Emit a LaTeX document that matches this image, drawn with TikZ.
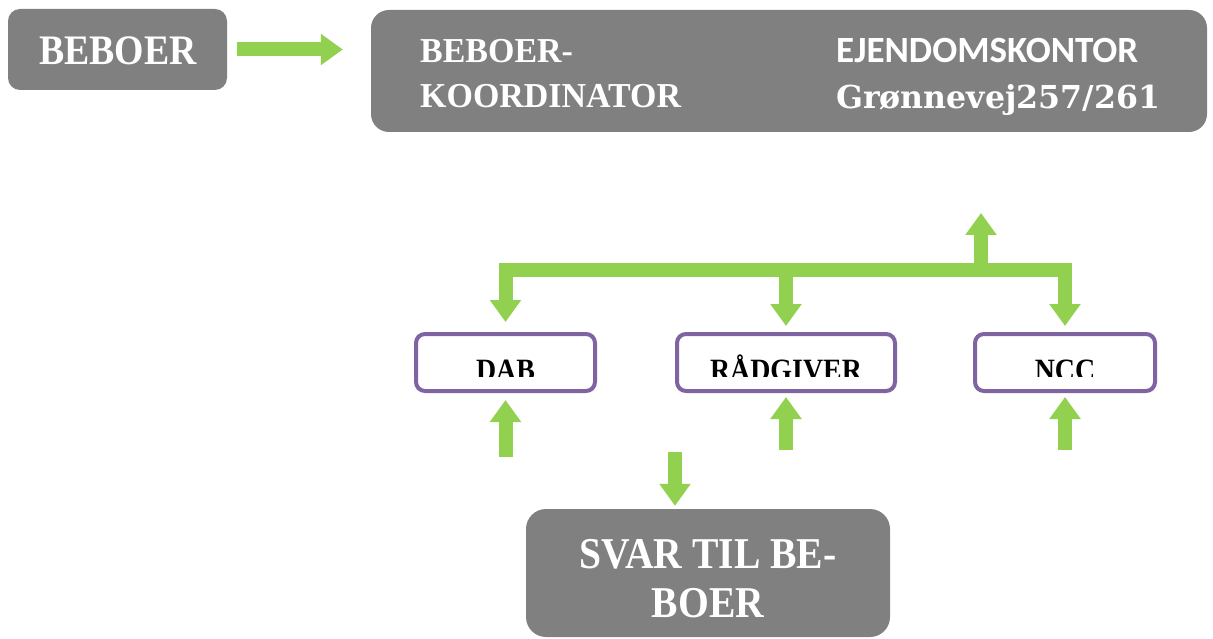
\documentclass[tikz,border=0pt]{standalone}
\usepackage{fontspec}
\setmainfont{Liberation Serif}[FakeStretch=0.9]
\newfontfamily\widefont{Liberation Serif}[FakeStretch=0.97]
\newfontfamily\streetfont{DejaVu Serif}
\newfontfamily\officefont{Carlito}
\usetikzlibrary{arrows.meta}
\definecolor{boxgrey}{HTML}{808080}
\definecolor{arrowgreen}{HTML}{92D050}
\definecolor{framepurple}{HTML}{8064A2}

\begin{document}
\begin{tikzpicture}
[x=1pt,y=-1pt,
 blk/.tip={Triangle[length=22pt,width=30pt]},
 greybox/.style={fill=boxgrey,inner sep=0pt},
 partbox/.style={draw=framepurple,line width=4pt,fill=white,rounded corners=9pt,inner sep=0pt,minimum height=57pt},
 wtxt/.style={text=white,inner sep=0pt,anchor=base west},
 btxt/.style={text=black,inner sep=0pt,anchor=base,font=\bfseries\fontsize{31}{36}\selectfont},
 bar/.style={draw=arrowgreen,line width=14pt,-blk}]
\useasboundingbox (0,0) rectangle (1213,639);
% boxes
\node[greybox,rounded corners=12pt,minimum width=219pt,minimum height=81pt] (beboer) at (117.5,49.5) {};
\node[greybox,rounded corners=18pt,minimum width=836pt,minimum height=122pt] (office) at (789,71) {};
\node[partbox,minimum width=179pt] (dab) at (505.5,362.5) {};
\node[partbox,minimum width=218pt] (raad) at (786,362.5) {};
\node[partbox,minimum width=180pt] (ncc) at (1065,362.5) {};
\node[greybox,rounded corners=20pt,minimum width=364pt,minimum height=128pt] (svar) at (708,573) {};
% white texts
\node[wtxt,anchor=base,font=\bfseries\fontsize{42}{48}\selectfont] (beboertxt) at (118,65) {BEBOER};
\node[wtxt,font=\widefont\bfseries\fontsize{35}{44}\selectfont] (koord1) at (420,63) {BEBOER-};
\node[wtxt,font=\widefont\bfseries\fontsize{35}{44}\selectfont] (koord2) at (420,108) {KOORDINATOR};
\node[wtxt,font=\officefont\bfseries\fontsize{37}{44}\selectfont] (office1) at (836,63) {EJENDOMSKONTOR};
\node[wtxt,font=\streetfont\bfseries\fontsize{31.6}{40}\selectfont] (office2) at (836,109) {Grønnevej257/261};
\node[wtxt,anchor=base,font=\bfseries\fontsize{44}{49}\selectfont] (svar1) at (708,568) {SVAR TIL BE-};
\node[wtxt,anchor=base,font=\bfseries\fontsize{44}{49}\selectfont] (svar2) at (708,617) {BOER};
% part names, cut off at the bottom
\begin{scope}
\clip (0,0) rectangle (1213,376);
\node[btxt] (dabtxt) at (505.5,380) {DAB};
\node[btxt] (raadtxt) at (786,380) {RÅDGIVER};
\node[btxt] (ncctxt) at (1065,380) {NCC};
\end{scope}
% arrows
\draw[bar,shorten <=10pt,shorten >=28pt] (beboer.east) -- (beboer.east -| office.west);
\coordinate (bus) at (0,270);
\coordinate (up) at (981,213);
\draw[bar,blk-blk,line join=miter,shorten <=10pt,shorten >=6pt] (dab.north)
	-- (dab.north |- bus) -- (ncc.north |- bus) -- (ncc.north);
\draw[bar,shorten >=6pt] (raad.north |- bus) -- (raad.north);
\draw[bar] (up |- bus) -- (up);
\coordinate (dabfoot) at (505.5,457);
\coordinate (raadfoot) at (786,450);
\coordinate (nccfoot) at (1065,450);
\coordinate (svarfoot) at (675,452);
\draw[bar,shorten >=7pt] (dabfoot) -- (dab.south);
\draw[bar,shorten >=4pt] (raadfoot) -- (raad.south);
\draw[bar,shorten >=4pt] (nccfoot) -- (ncc.south);
\draw[bar,shorten >=3pt] (svarfoot) -- (svarfoot |- svar.north);
\end{tikzpicture}
\end{document}
